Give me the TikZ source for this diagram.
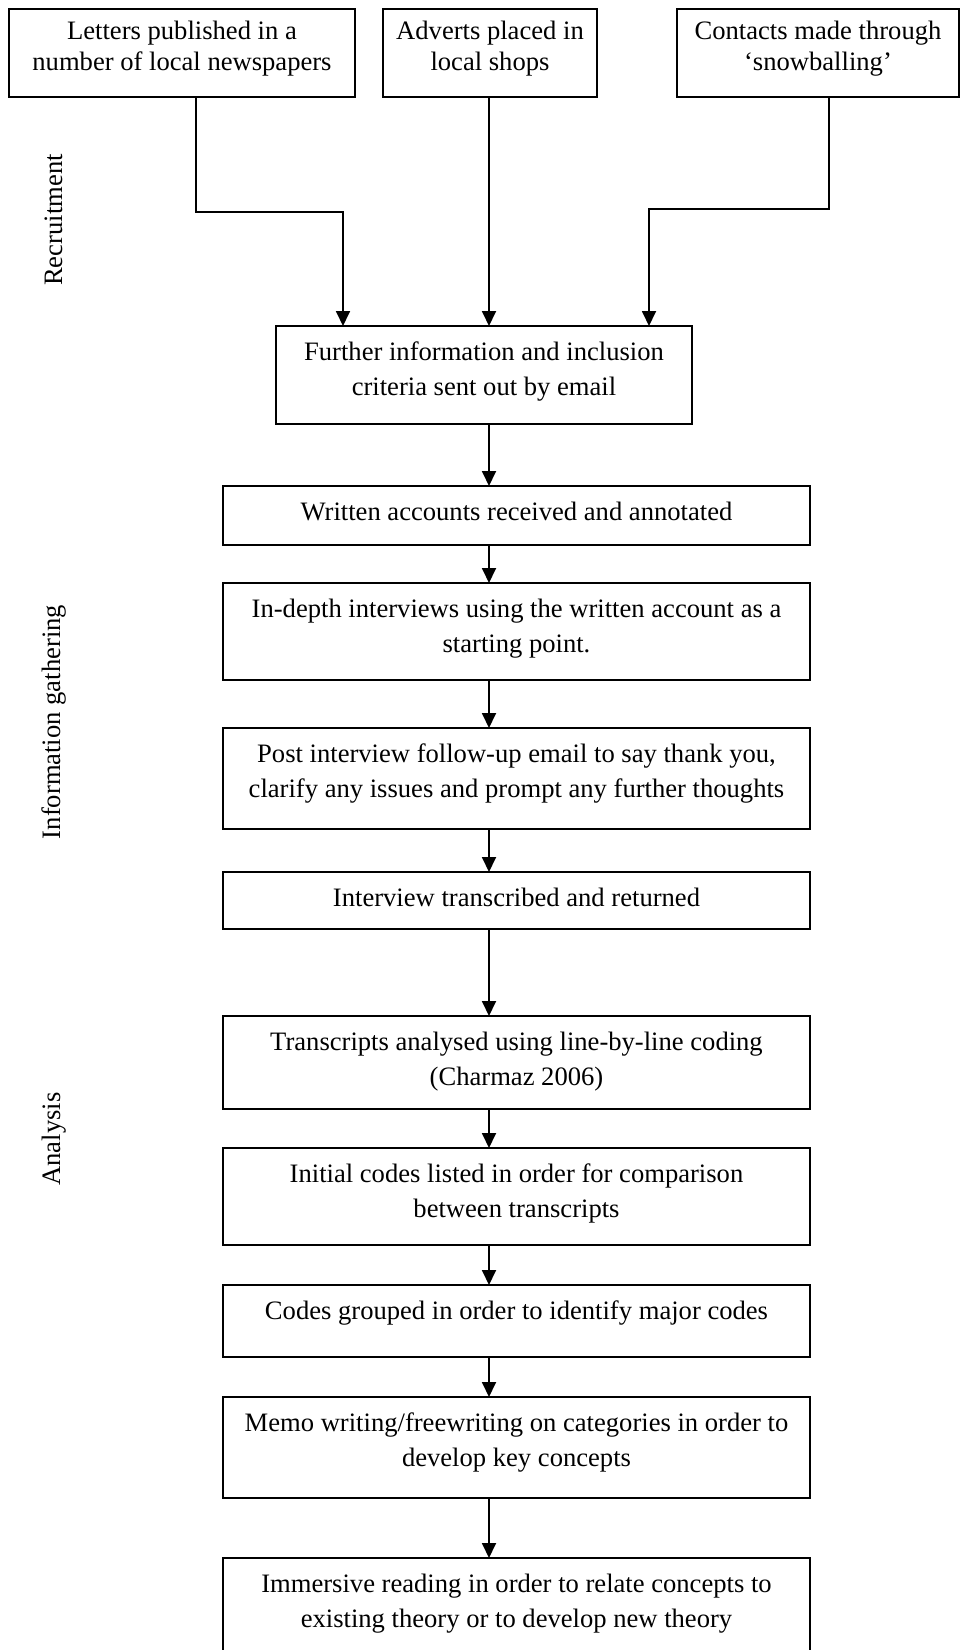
\documentclass[tikz,border=0pt]{standalone}
\usepackage{fontspec}
\setmainfont{Liberation Serif}
\usetikzlibrary{arrows.meta}
% width, height, baselineskip, top pad, text
\newcommand\bxt[5]{\parbox[c][#2pt][t]{#1pt}{\fontsize{26.6pt}{#3pt}\selectfont\centering\vspace*{#4pt}\strut #5\par}}
\begin{document}
\begin{tikzpicture}[x=1pt,y=-1pt,
  box/.style={draw, line width=1.8pt, inner sep=0pt, outer sep=0pt, anchor=north west},
  arr/.style={-{Triangle[length=15pt,width=14pt]}, line width=1.8pt},
  lbl/.style={rotate=90, inner sep=0pt, font=\fontsize{26.6pt}{35pt}\selectfont}]
\useasboundingbox (0,0) rectangle (961,1650);

% top row
\node[box] (b1) at (9,9)   {\bxt{346}{88}{31}{8.3}{Letters published in a\\number of local newspapers}};
\node[box] (b2) at (383,9) {\bxt{214}{88}{31}{8.3}{Adverts placed in\\local shops}};
\node[box] (b3) at (677,9) {\bxt{282}{88}{31}{8.3}{Contacts made through\\‘snowballing’}};

% main column
\node[box] (b4)  at (276,326)  {\bxt{416}{98}{35}{9.5}{Further information and inclusion\\criteria sent out by email}};
\node[box] (b5)  at (223,486)  {\bxt{587}{59}{35}{9.5}{Written accounts received and annotated}};
\node[box] (b6)  at (223,583)  {\bxt{587}{97}{35}{9.5}{In-depth interviews using the written account as a\\starting point.}};
\node[box] (b7)  at (223,728)  {\bxt{587}{101}{35}{9.5}{Post interview follow-up email to say thank you,\\clarify any issues and prompt any further thoughts}};
\node[box] (b8)  at (223,872)  {\bxt{587}{57}{35}{9.5}{Interview transcribed and returned}};
\node[box] (b9)  at (223,1016) {\bxt{587}{93}{35}{9.5}{Transcripts analysed using line-by-line coding\\(Charmaz 2006)}};
\node[box] (b10) at (223,1148) {\bxt{587}{97}{35}{9.5}{Initial codes listed in order for comparison\\between transcripts}};
\node[box] (b11) at (223,1285) {\bxt{587}{72}{35}{9.5}{Codes grouped in order to identify major codes}};
\node[box] (b12) at (223,1397) {\bxt{587}{101}{35}{9.5}{Memo writing/freewriting on categories in order to\\develop key concepts}};
\node[box] (b13) at (223,1558) {\bxt{587}{110}{35}{9.5}{Immersive reading in order to relate concepts to\\existing theory or to develop new theory}};

% side labels
\node[lbl] (lrec) at (54,220)  {Recruitment};
\node[lbl] (linf) at (54,722)  {Information gathering};
\node[lbl] (lana) at (54,1139) {Analysis};

% connectors
\coordinate (ax) at (489,0);
\coordinate (lv) at (196,212);
\coordinate (lh) at (343,212);
\coordinate (rv) at (829,209);
\coordinate (rh) at (649,209);

\draw[arr] (b1.south -| lv) -- (lv) -- (lh) -- (b4.north -| lh);
\draw[arr] (b2.south -| ax) -- (b4.north -| ax);
\draw[arr] (b3.south -| rv) -- (rv) -- (rh) -- (b4.north -| rh);

\draw[arr] (b4.south -| ax) -- (b5.north -| ax);
\draw[arr] (b5.south -| ax) -- (b6.north -| ax);
\draw[arr] (b6.south -| ax) -- (b7.north -| ax);
\draw[arr] (b7.south -| ax) -- (b8.north -| ax);
\draw[arr] (b8.south -| ax) -- (b9.north -| ax);
\draw[arr] (b9.south -| ax) -- (b10.north -| ax);
\draw[arr] (b10.south -| ax) -- (b11.north -| ax);
\draw[arr] (b11.south -| ax) -- (b12.north -| ax);
\draw[arr] (b12.south -| ax) -- (b13.north -| ax);
\end{tikzpicture}
\end{document}
